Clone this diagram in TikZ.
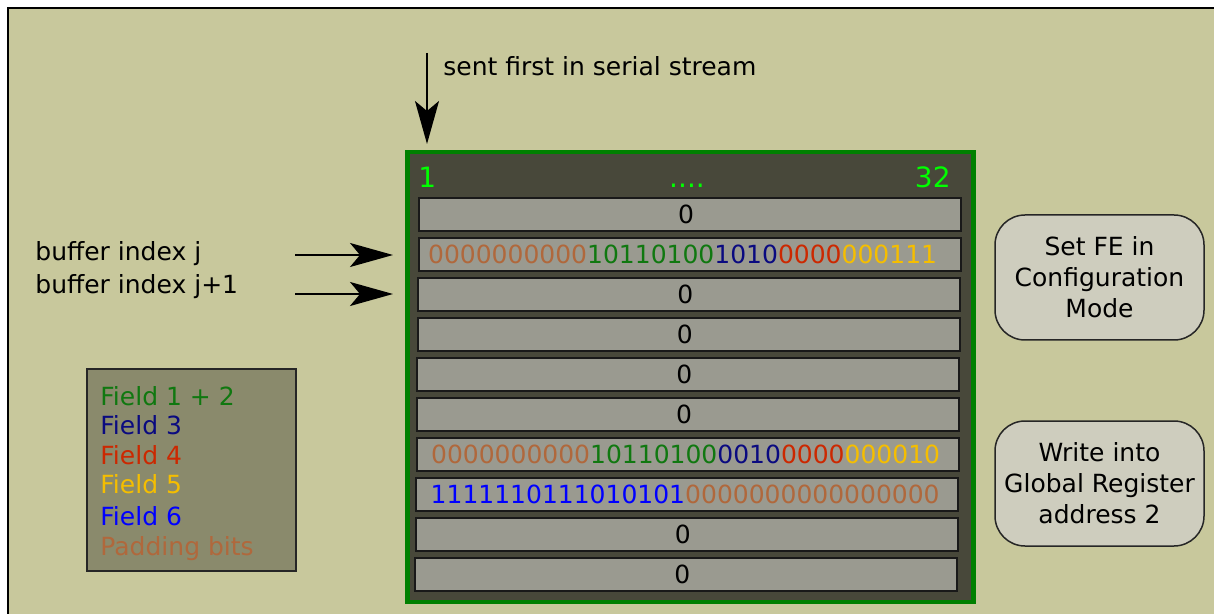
\documentclass[tikz,border=0pt]{standalone}
\usepackage{fontspec}
\setmainfont{DejaVu Sans}
\usetikzlibrary{arrows.meta}
\definecolor{bgkhaki}{RGB}{200,200,156}
\definecolor{bufdark}{RGB}{72,72,58}
\definecolor{bufgreen}{RGB}{0,128,0}
\definecolor{rowgray}{RGB}{154,154,144}
\definecolor{legfill}{RGB}{138,138,108}
\definecolor{notefill}{RGB}{206,205,190}
\definecolor{fA}{RGB}{16,120,16}
\definecolor{fB}{RGB}{10,10,128}
\definecolor{fC}{RGB}{204,40,0}
\definecolor{fD}{RGB}{245,190,0}
\definecolor{fE}{RGB}{0,0,255}
\definecolor{fP}{RGB}{176,104,60}
\definecolor{hdr}{RGB}{0,255,0}
\tikzset{
  txt/.style={font=\fontsize{12.5}{15.5}\selectfont, inner sep=0pt, text=black},
  rowbox/.style={draw=black!90, line width=1pt, fill=rowgray, minimum width=271pt, minimum height=16.5pt, inner sep=0pt, font=\fontsize{12.5}{15}\selectfont},
  notebox/.style={draw=black!85, line width=0.75pt, fill=notefill, rounded corners=15pt, minimum width=104.5pt, minimum height=62.5pt, align=center, inner sep=0pt, font=\fontsize{12.5}{15.5}\selectfont},
  bigarrow/.style={-{Stealth[length=21.5pt,width=12pt,inset=5pt]}, line width=1pt},
  hdrtxt/.style={font=\fontsize{14}{16}\selectfont, text=hdr, inner sep=0pt},
  legtxt/.style={font=\fontsize{12.5}{15}\selectfont, inner sep=0pt, anchor=base west}
}
\begin{document}
\begin{tikzpicture}[x=0.5pt,y=-0.5pt]
\clip (0,0) rectangle (1214,614);
\fill[white] (0,0) rectangle (1214,614);
\draw[line width=1pt, fill=bgkhaki] (8,8) rectangle (1240,640);

% buffer
\node[draw=bufgreen, line width=2.25pt, fill=bufdark, minimum width=283pt, minimum height=225pt, inner sep=0pt] (buf) at (690.5,377) {};
\node[hdrtxt, anchor=base west] (h1) at (418,188) {1};
\node[hdrtxt, anchor=base] (hdots) at (687,188) {....};
\node[hdrtxt, anchor=base east] (h32) at (951,188) {32};

\node[rowbox] (r0) at (690.0,214.5) {0\kern4pt};
\node[rowbox] (r1) at (689.6,254.5) {\textcolor{fP}{0000000000}\textcolor{fA}{10110100}\textcolor{fB}{1010}\textcolor{fC}{0000}\textcolor{fD}{000111}\kern7pt};
\node[rowbox] (r2) at (689.2,294.5) {0\kern4pt};
\node[rowbox] (r3) at (688.8,334.5) {0\kern4pt};
\node[rowbox] (r4) at (688.4,374.5) {0\kern4pt};
\node[rowbox] (r5) at (688.0,414.5) {0\kern4pt};
\node[rowbox] (r6) at (687.6,454.5) {\textcolor{fP}{0000000000}\textcolor{fA}{10110100}\textcolor{fB}{0010}\textcolor{fC}{0000}\textcolor{fD}{000010}\kern2pt};
\node[rowbox] (r7) at (687.2,494.5) {\textcolor{fE}{1111110111010101}\textcolor{fP}{0000000000000000}\kern2pt};
\node[rowbox] (r8) at (686.8,534.5) {0\kern4pt};
\node[rowbox] (r9) at (686.4,574.5) {0\kern4pt};

% top arrow
\coordinate (topstart) at (427,53);
\coordinate (topend) at (427,144);
\draw[bigarrow] (topstart) -- (topend);
\node[txt, anchor=base west] (sent) at (443,76) {sent first in serial stream};

% left labels and arrows
\node[txt, anchor=base west] (bj) at (35,261) {buffer index j};
\node[txt, anchor=base west] (bj1) at (35,294) {buffer index j+1};
\coordinate (a1s) at (295,255);
\coordinate (a1e) at (393,255);
\coordinate (a2s) at (295,294);
\coordinate (a2e) at (393,294);
\draw[bigarrow] (a1s) -- (a1e);
\draw[bigarrow] (a2s) -- (a2e);

% legend
\node[draw=black!85, line width=1pt, fill=legfill, minimum width=104.5pt, minimum height=101pt, inner sep=0pt] (legend) at (191.5,470) {};
\node[legtxt, text=fA] (l1) at (100,405) {Field 1 + 2};
\node[legtxt, text=fB] (l2) at (100,434) {Field 3};
\node[legtxt, text=fC] (l3) at (100,464) {Field 4};
\node[legtxt, text=fD] (l4) at (100,493) {Field 5};
\node[legtxt, text=fE] (l5) at (100,525) {Field 6};
\node[legtxt, text=fP] (l6) at (100,555) {Padding bits};

% notes
\node[notebox] (n1) at (1099.5,277.5) {Set FE in\\Configuration\\Mode};
\node[notebox] (n2) at (1099.5,483.5) {Write into\\Global Register\\address 2};
\end{tikzpicture}
\end{document}
